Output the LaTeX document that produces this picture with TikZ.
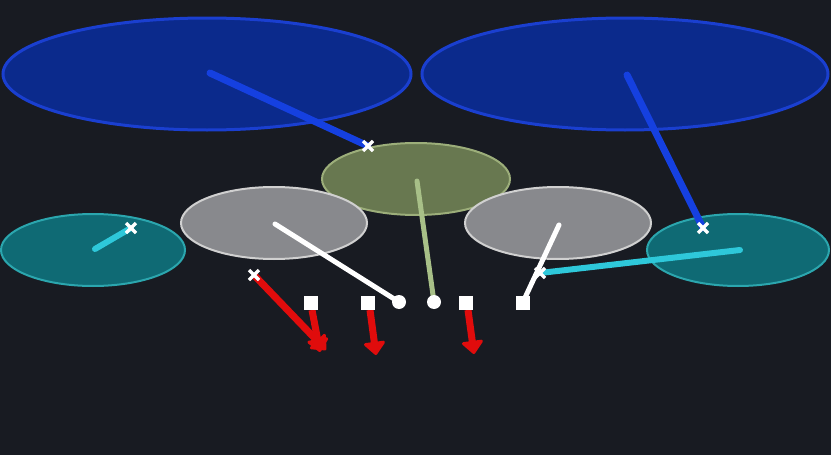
\documentclass[tikz,border=0pt]{standalone}
\usetikzlibrary{arrows.meta,calc}
\definecolor{bg}{HTML}{181B22}
\definecolor{zonefill}{HTML}{0B2A8C}
\definecolor{zoneedge}{HTML}{1A3FD0}
\definecolor{zoneline}{HTML}{1540E0}
\definecolor{olivefill}{HTML}{687850}
\definecolor{oliveedge}{HTML}{9CAE7A}
\definecolor{olivepath}{HTML}{A8C088}
\definecolor{grayfill}{HTML}{88898D}
\definecolor{grayedge}{HTML}{D0D0D0}
\definecolor{tealfill}{HTML}{0F6A74}
\definecolor{tealedge}{HTML}{2BA6AE}
\definecolor{tealpath}{HTML}{2EC8DA}
\definecolor{routered}{HTML}{E00C0C}
\tikzset{
  deepzone/.style={fill=zonefill, draw=zoneedge, line width=3pt},
  midzone/.style={fill=olivefill, draw=oliveedge, line width=2pt},
  hookzone/.style={fill=grayfill, draw=grayedge, line width=2pt},
  flatzone/.style={fill=tealfill, draw=tealedge, line width=2pt},
  route/.style={line width=6pt, line cap=round},
  redroute/.style={routered, line width=7pt,
    -{Triangle[width=24pt,length=14pt,line width=3pt,round,fill=routered]}},
  xmark/.style={white, line width=3.5pt}
}
\newcommand{\xmarkat}[1]{%
  \draw[xmark] ($(#1)+(-5,-5)$) -- ($(#1)+(5,5)$);
  \draw[xmark] ($(#1)+(-5,5)$) -- ($(#1)+(5,-5)$);}
\begin{document}
\begin{tikzpicture}[x=1pt,y=-1pt]
            \fill[bg] (0,0) rectangle (831,455);
            \useasboundingbox (0,0) rectangle (831,455);
            \draw[deepzone] (207,74) ellipse (204 and 56);
            \draw[deepzone] (625,74) ellipse (203 and 56);
            \draw[midzone] (416,179) ellipse (94 and 36);
            \draw[hookzone] (274,223) ellipse (93 and 36);
            \draw[hookzone] (558,223) ellipse (93 and 36);
            \draw[flatzone] (93,250) ellipse (92 and 36);
            \draw[flatzone] (738,250) ellipse (91 and 36);
            \coordinate (fsL) at (210,73);
            \coordinate (fsR) at (627,75);
            \coordinate (ssM) at (368,146);
            \coordinate (cbR) at (703,228);
            \coordinate (flL) at (95,249);
            \coordinate (cbL) at (131,228);
            \coordinate (flR) at (740,250);
            \coordinate (teR) at (540,273);
            \coordinate (olbL) at (275,224);
            \coordinate (olbR) at (559,225);
            \coordinate (mlb) at (417,181);
            \coordinate (wrL) at (254,275);
            \coordinate (wrLend) at (326,350);
            \coordinate (ltT) at (312,310);
            \coordinate (ltTend) at (320,352);
            \coordinate (ltD) at (370,310);
            \coordinate (ltDend) at (376,355);
            \coordinate (rtD) at (468,310);
            \coordinate (rtDend) at (474,354);
            \draw[route, zoneline, line width=7pt] (fsL)--(ssM);
            \draw[route, zoneline, line width=7pt] (fsR)--(cbR);
            \draw[route, tealpath] (flL)--(cbL);
            \draw[route, tealpath] (teR)--(flR);
            \draw[route, olivepath, line width=5pt] (mlb)--(434,302);
            \draw[route, white, line width=5pt] (olbL)--(399,302);
            \draw[route, white, line width=5pt] (olbR)--(523,302);
            \draw[redroute] (wrL)--(wrLend);
            \draw[redroute] (ltT)--(ltTend);
            \draw[redroute] (ltD)--(ltDend);
            \draw[redroute] (rtD)--(rtDend);
            \fill[white] (304,296) rectangle (318,310);
            \fill[white] (361,296) rectangle (375,310);
            \fill[white] (459,296) rectangle (473,310);
            \fill[white] (516,296) rectangle (530,310);
            \fill[white] (399,302) circle (7);
            \fill[white] (434,302) circle (7);
            \xmarkat{ssM}
            \xmarkat{cbL}
            \xmarkat{cbR}
            \xmarkat{wrL}
            \xmarkat{teR}
        \end{tikzpicture}
\end{document}
